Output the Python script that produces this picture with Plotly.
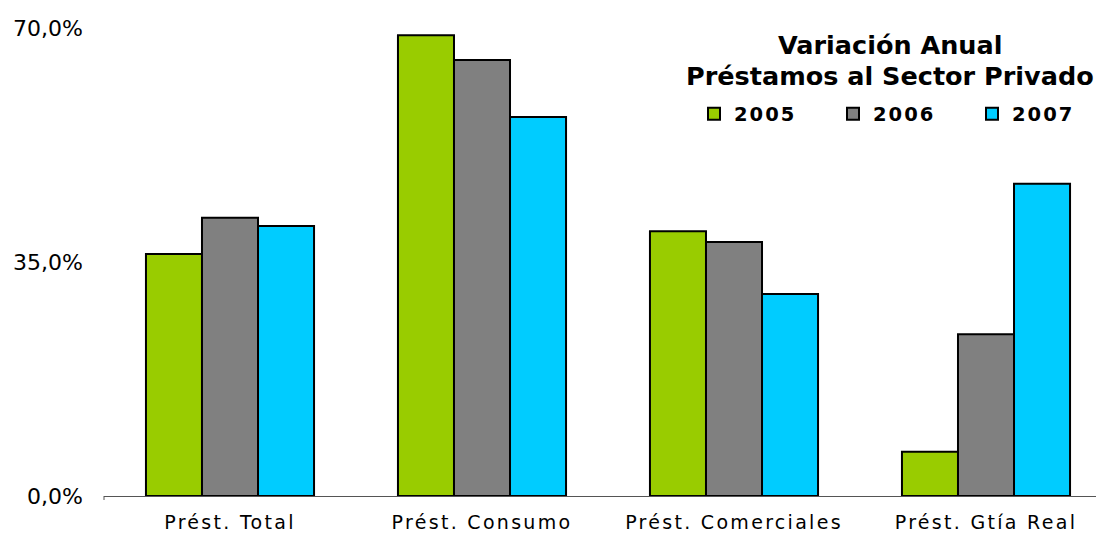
import plotly.graph_objects as go

categories = ["Prést. Total", "Prést. Consumo", "Prést. Comerciales", "Prést. Gtía Real"]
years = ["2005", "2006", "2007"]
v2005 = [36.2, 68.9, 39.6, 6.6]
v2006 = [41.6, 65.2, 38.0, 24.2]
v2007 = [40.4, 56.7, 30.2, 46.7]
colors = ["#99CC00", "#808080", "#00CCFF"]
tick_vals = [0, 35, 70]
tick_text = ["0,0%", "35,0%", "70,0%"]

# page body has an 8px margin, so figure coords = window coords - 8
W, H = 1096, 526
ml, mr, mt, mb = 96, 0, 20, 38
ph = H - mt - mb
pw = W - ml - mr

fig = go.Figure()
for name, vals, col in zip(years, [v2005, v2006, v2007], colors):
    fig.add_trace(go.Bar(
        x=categories, y=vals, name=name,
        marker=dict(color=col, line=dict(color="black", width=2)),
    ))

fig.update_layout(
    width=W, height=H,
    margin=dict(l=ml, r=mr, t=mt, b=mb, pad=0, autoexpand=False),
    paper_bgcolor="white", plot_bgcolor="white",
    barmode="group", bargap=0.333, bargroupgap=0,
    font=dict(family="DejaVu Sans", color="black"),
    showlegend=True,
    legend=dict(
        orientation="h", x=(686 - ml) / pw, xanchor="left",
        y=(H - mb - 106) / ph, yanchor="middle",
        entrywidth=94, entrywidthmode="pixels",
        font=dict(family="DejaVu Sans", size=19.5, color="black", weight="bold"),
        bgcolor="rgba(0,0,0,0)",
    ),
    xaxis=dict(
        range=[-0.5, 3.5 - 8 / 252],
        showline=True, linecolor="#555", linewidth=1,
        ticks="", showgrid=False,
        tickfont=dict(family="DejaVu Sans", size=19, color="black"),
        ticklabelstandoff=9,
    ),
    yaxis=dict(
        range=[0, 70], tickvals=tick_vals, ticktext=tick_text,
        showline=False, showgrid=False, zeroline=False, ticks="",
        tickfont=dict(family="DejaVu Sans", size=22, color="black"),
        ticklabelstandoff=20,
    ),
    annotations=[
        dict(text="<b>Variación Anual</b>",
             xref="paper", yref="paper", x=(882 - ml) / pw, y=(H - mb - 37) / ph,
             xanchor="center", yanchor="middle", showarrow=False,
             font=dict(family="DejaVu Sans", size=25.5, color="black")),
        dict(text="<b>Préstamos al Sector Privado</b>",
             xref="paper", yref="paper", x=(882 - ml) / pw, y=(H - mb - 68) / ph,
             xanchor="center", yanchor="middle", showarrow=False,
             font=dict(family="DejaVu Sans", size=25.5, color="black")),
    ],
    shapes=[
        dict(type="line", xref="paper", yref="paper", x0=0, x1=0, y0=0, y1=-4 / ph,
             line=dict(color="#555", width=1)),
    ],
)

post = """
var gd = document.getElementById('{plot_id}');
gd.querySelectorAll('.xtick text').forEach(function(t){ t.style.letterSpacing = '2.3px'; });
gd.querySelectorAll('.legendtext').forEach(function(t){ t.style.letterSpacing = '2px'; });
"""

fig.write_html("out.html", post_script=post)
